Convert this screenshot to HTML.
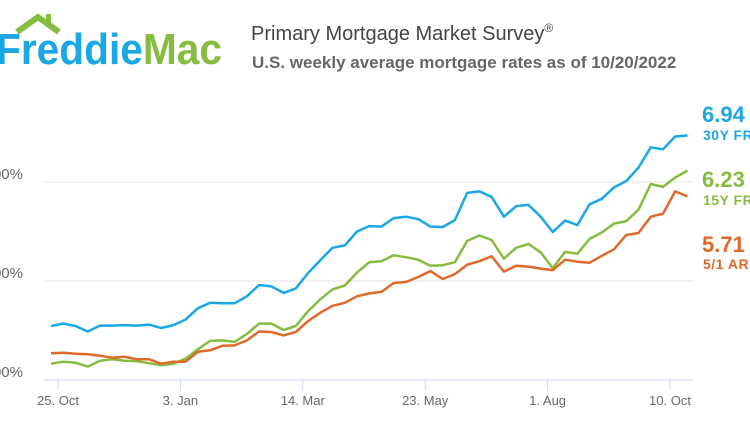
<!DOCTYPE html>
<html><head><meta charset="utf-8"><style>
body{margin:0;width:750px;height:430px;overflow:hidden;background:#fff;font-family:"Liberation Sans",sans-serif}
svg{position:absolute;left:0;top:0}
</style></head><body>
<svg id="c" width="750" height="430">
<g>
<polyline points="17,32 38,17 59,32" fill="none" stroke="#86bc3f" stroke-width="6" stroke-linejoin="miter"/>
<rect x="46" y="14" width="5" height="9" fill="#86bc3f"/>
<text x="-4" y="64" font-size="44" font-weight="bold" fill="#1aa7e6" textLength="226" lengthAdjust="spacingAndGlyphs">Freddie<tspan fill="#86bc3f">Mac</tspan></text>
</g>
<text x="251" y="40" font-size="20" fill="#444">Primary Mortgage Market Survey<tspan font-size="12" dy="-8">®</tspan></text>
<text x="252" y="68" font-size="17" font-weight="bold" fill="#666">U.S. weekly average mortgage rates as of 10/20/2022</text>
<g id="grid"></g><g id="series"></g><g id="labels"></g>
</svg>
<script>
const rate30=[3.09,3.14,3.09,2.98,3.10,3.10,3.11,3.10,3.12,3.05,3.11,3.22,3.45,3.56,3.55,3.55,3.69,3.92,3.89,3.76,3.85,4.16,4.42,4.67,4.72,5.00,5.11,5.10,5.27,5.30,5.25,5.10,5.09,5.23,5.78,5.81,5.70,5.30,5.51,5.54,5.30,4.99,5.22,5.13,5.55,5.66,5.89,6.02,6.29,6.70,6.66,6.92,6.94];
const rate15=[2.33,2.37,2.35,2.27,2.39,2.42,2.39,2.38,2.34,2.30,2.33,2.43,2.62,2.79,2.80,2.77,2.93,3.14,3.14,3.01,3.09,3.39,3.63,3.83,3.91,4.17,4.38,4.40,4.52,4.48,4.43,4.31,4.32,4.38,4.81,4.92,4.83,4.45,4.67,4.75,4.58,4.26,4.59,4.55,4.85,4.98,5.16,5.21,5.44,5.96,5.90,6.09,6.23];
const rateArm=[2.54,2.55,2.53,2.52,2.49,2.45,2.47,2.42,2.42,2.33,2.37,2.37,2.57,2.60,2.69,2.70,2.80,2.98,2.97,2.90,2.97,3.19,3.36,3.50,3.56,3.69,3.75,3.78,3.96,3.98,4.08,4.20,4.04,4.14,4.33,4.40,4.50,4.19,4.31,4.29,4.25,4.22,4.43,4.39,4.37,4.51,4.64,4.93,4.97,5.30,5.36,5.81,5.71];
const yTicks=[2,4,6];
const xTickLabels=["25. Oct","3. Jan","14. Mar","23. May","1. Aug","10. Oct"];
const xTickDays=[4,74,144,214,284,354];
const seriesNames=["30Y FRM","15Y FRM","5/1 ARM"];
const NS="http://www.w3.org/2000/svg";
const X0=51,PXD=12.24/7,Y0=380,PXU=49.5;
const xDay=d=>X0+d*PXD, xIdx=i=>xDay(i*7), yV=v=>Y0-(v-2)*PXU;
function mk(t,a,p){const e=document.createElementNS(NS,t);for(const k in a)e.setAttribute(k,a[k]);p.appendChild(e);return e;}
const grid=document.getElementById('grid'),ser=document.getElementById('series'),lab=document.getElementById('labels');
yTicks.forEach(v=>{
  if(v>2){const l=mk('line',{x1:44,x2:693,y1:yV(v),y2:yV(v),stroke:'#e6e6e6','stroke-width':1},grid);
  
  }
  const t=mk('text',{x:23,y:yV(v)-3,'text-anchor':'end','font-size':15,fill:'#666'},grid);
  t.textContent=v.toFixed(2)+'%';
  
  
});
const ax=mk('line',{x1:44,x2:693,y1:Y0,y2:Y0,stroke:'#ccd6eb','stroke-width':1},grid);


xTickDays.forEach((d,i)=>{
  const tk=mk('line',{x1:xDay(d),x2:xDay(d),y1:Y0,y2:Y0+10,stroke:'#ccd6eb'},grid);
  
  
  const t=mk('text',{x:xDay(d),y:405,'text-anchor':'middle','font-size':13,fill:'#666'},grid);
  t.textContent=xTickLabels[i];
  
  
});
const colors=['#1aa7e6','#86bc3f','#e0692a'];
const labelY=[[122,140],[187,205],[252,269]];
[rate30,rate15,rateArm].forEach((arr,s)=>{
  const p=mk('polyline',{points:arr.map((v,i)=>xIdx(i).toFixed(1)+','+yV(v).toFixed(1)).join(' '),fill:'none',stroke:colors[s],'stroke-width':2.5,'stroke-linejoin':'round'},ser);
  
  
  const v=mk('text',{x:702,y:labelY[s][0],'font-size':22,'font-weight':'bold',fill:colors[s]},lab);
  v.textContent=arr[arr.length-1].toFixed(2);
  
  
  const n=mk('text',{x:703,y:labelY[s][1],'font-size':14,'font-weight':'bold',fill:colors[s],'letter-spacing':'0.5'},lab);
  n.textContent=seriesNames[s];
  
  
});
</script>
</body></html>
